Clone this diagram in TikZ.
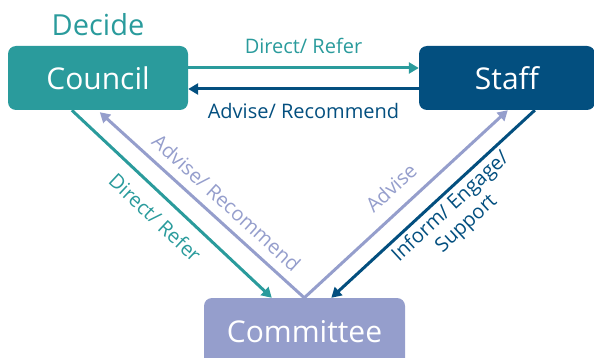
\documentclass[tikz,border=0pt]{standalone}
\usepackage{fontspec}
\setmainfont{Open Sans}
\usetikzlibrary{arrows.meta,calc}
\definecolor{councilteal}{HTML}{2A9B9C}
\definecolor{staffblue}{HTML}{034F7F}
\definecolor{committeeviolet}{HTML}{959ECC}
\begin{document}
\begin{tikzpicture}[x=1pt,y=-1pt,
  body/.style={rounded corners=8pt,minimum height=64pt,inner sep=0pt,text=white,
    font=\fontsize{30}{32}\selectfont},
  flow/.style={line width=3pt,-{Triangle[length=10pt,width=11pt]}},
  lbl/.style={font=\fontsize{20}{23}\selectfont,inner sep=0pt,align=center}]
\useasboundingbox (0,0) rectangle (594,358);
% the three bodies
\node[body,fill=councilteal,minimum width=180pt] (council) at (98,78) {Council};
\node[body,fill=staffblue,minimum width=176pt] (staff) at (507,78) {Staff};
\node[body,fill=committeeviolet,minimum width=201pt,minimum height=68pt] (committee) at (304.5,332) {Committee};
\node[text=councilteal,font=\fontsize{29}{31}\selectfont,inner sep=0pt] (decide) at (98,25) {Decide};
% Council <-> Staff
\draw[flow,councilteal] ($(council.east)+(0,-10)$) -- ($(staff.west)+(0,-10)$)
  node[lbl,midway,above=13pt,text=councilteal] (lcs) {Direct/ Refer};
\draw[flow,staffblue] ($(staff.west)+(0,11)$) -- ($(council.east)+(0,11)$)
  node[lbl,midway,below=13pt,text=staffblue] (lsc) {Advise/ Recommend};
% Council <-> Committee
\coordinate (cq1) at ($(council.south west)+(64,0)$);
\coordinate (qc1) at ($(committee.north west)+(68,0)$);
\coordinate (qc2) at ($(committee.north west)+(100.5,0)$);
\coordinate (cq2) at ($(council.south west)+(92,2)$);
\draw[flow,councilteal] (cq1) -- (qc1)
  node[lbl,pos=0.49,sloped,below=12pt,text=councilteal] (lcq) {Direct/ Refer};
\draw[flow,committeeviolet] (qc2) -- (cq2)
  node[lbl,pos=0.44,sloped,above=9pt,text=committeeviolet] (lqc) {Advise/ Recommend};
% Staff <-> Committee
\coordinate (sq1) at ($(staff.south west)+(116,0)$);
\coordinate (qs1) at ($(committee.north west)+(127.5,0)$);
\coordinate (qs2) at ($(staff.south west)+(89,0)$);
\draw[flow,committeeviolet] (qc2) -- (qs2)
  node[lbl,pos=0.5,sloped,above=13pt,text=committeeviolet] (lqs) {Advise};
\draw[flow,staffblue] (sq1) -- (qs1)
  node[lbl,pos=0.46,sloped,below=3pt,text=staffblue] (lsq) {Inform/ Engage/\\Support};
\end{tikzpicture}
\end{document}
